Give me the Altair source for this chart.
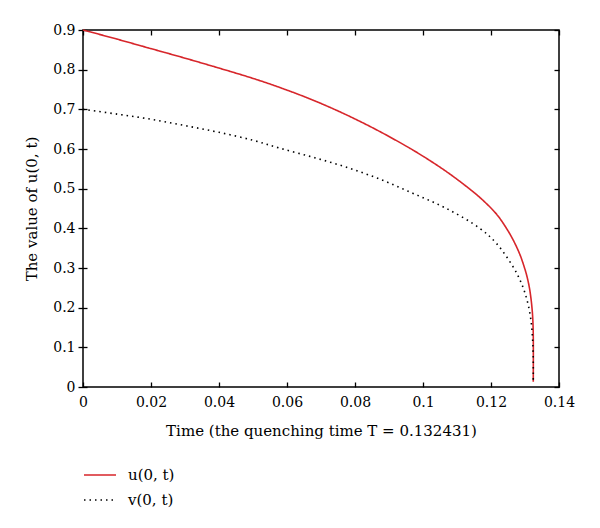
import altair as alt
import pandas as pd

# Time values and readings for u(0,t) (solid red)
t_u = [0.0, 0.01, 0.02, 0.03, 0.04, 0.05, 0.0579, 0.0677, 0.0775, 0.0873, 0.0971,
       0.1020, 0.1069, 0.1118, 0.1167, 0.1216, 0.1244, 0.1265, 0.1285, 0.1298, 0.1306,
       0.1314, 0.1321, 0.1324, 0.13243]
u_vals = [0.9, 0.877, 0.853, 0.829, 0.804, 0.778, 0.755, 0.723, 0.686, 0.644, 0.597,
          0.571, 0.543, 0.512, 0.478, 0.436, 0.402, 0.371, 0.334, 0.302, 0.278,
          0.245, 0.195, 0.145, 0.013]

# Time values and readings for v(0,t) (dotted black)
t_v = [0.0, 0.01, 0.02, 0.03, 0.04, 0.05, 0.0579, 0.0677, 0.0775, 0.0873, 0.0971,
       0.1069, 0.1167, 0.1216, 0.1265, 0.1285, 0.1298, 0.1310, 0.1318, 0.1322, 0.1324, 0.13243]
v_vals = [0.70, 0.688, 0.675, 0.659, 0.642, 0.622, 0.602, 0.579, 0.554, 0.524, 0.488,
          0.450, 0.400, 0.362, 0.303, 0.270, 0.242, 0.205, 0.165, 0.125, 0.085, 0.018]

series_names = ["u(0, t)", "v(0, t)"]
series_colors = ["#d7262b", "#000000"]

x_ticks = [0, 0.02, 0.04, 0.06, 0.08, 0.1, 0.12, 0.14]
y_ticks = [0, 0.1, 0.2, 0.3, 0.4, 0.5, 0.6, 0.7, 0.8, 0.9]

df = pd.concat([
    pd.DataFrame({"t": t_u, "val": u_vals, "series": series_names[0], "order": range(len(t_u))}),
    pd.DataFrame({"t": t_v, "val": v_vals, "series": series_names[1], "order": range(len(t_v))}),
])

FONT = "DejaVu Serif"

xscale = alt.Scale(domain=[0, 0.14], nice=False, zero=False)
yscale = alt.Scale(domain=[0, 0.9], nice=False, zero=False)

legend_def = dict(title=None, orient="none", legendX=0, legendY=428,
                  symbolType="stroke", symbolSize=1024, symbolStrokeWidth=1.6,
                  labelOffset=11, rowPadding=-8)

lines = alt.Chart(df).mark_line(strokeWidth=1.6, interpolate="catmull-rom").encode(
    x=alt.X("t:Q", scale=xscale,
            axis=alt.Axis(values=x_ticks, format="~g", title="Time (the quenching time T = 0.132431)",
                          orient="bottom", offset=-5, tickSize=5, domain=False, grid=False,
                          labelFlush=False, labelOverlap=False,
                          labelPadding=8, titlePadding=14)),
    y=alt.Y("val:Q", scale=yscale,
            axis=alt.Axis(values=y_ticks, format="~g", title="The value of u(0, t)",
                          orient="left", offset=-4, tickSize=9, domain=False, grid=False,
                          labelFlush=False, labelOverlap=False,
                          labelPadding=3, titlePadding=13)),
    color=alt.Color("series:N", scale=alt.Scale(domain=series_names, range=series_colors),
                    legend=alt.Legend(**legend_def)),
    strokeDash=alt.StrokeDash("series:N", scale=alt.Scale(domain=series_names, range=[[1, 0], [1.5, 4]]),
                              legend=alt.Legend(**legend_def)),
    order="order:Q",
    detail="series:N",
)

mirror = alt.Chart(df).mark_line(opacity=0).encode(
    x=alt.X("t:Q", scale=xscale,
            axis=alt.Axis(values=x_ticks, orient="top", offset=-5, tickSize=5, domain=False,
                          labels=False, title=None, grid=False)),
    y=alt.Y("val:Q", scale=yscale,
            axis=alt.Axis(values=y_ticks, orient="right", offset=-5, tickSize=5, domain=False,
                          labels=False, title=None, grid=False)),
    detail="series:N",
)

chart = alt.layer(lines, mirror).resolve_axis(x="independent", y="independent").properties(
    width=476, height=357,
    autosize=alt.AutoSizeParams(type="none"),
    padding={"left": 75, "top": 22, "right": 30, "bottom": 140},
    background="white",
).configure_view(stroke="black", strokeWidth=1.5).configure_axis(
    labelFont=FONT, titleFont=FONT, labelFontSize=14, titleFontSize=15,
    labelColor="black", titleColor="black", tickColor="black", tickWidth=1.3,
    titleFontWeight="normal",
).configure_legend(labelFont=FONT, labelFontSize=15, labelColor="black")

chart.save("out.html", embed_options={"renderer": "svg", "actions": False})
